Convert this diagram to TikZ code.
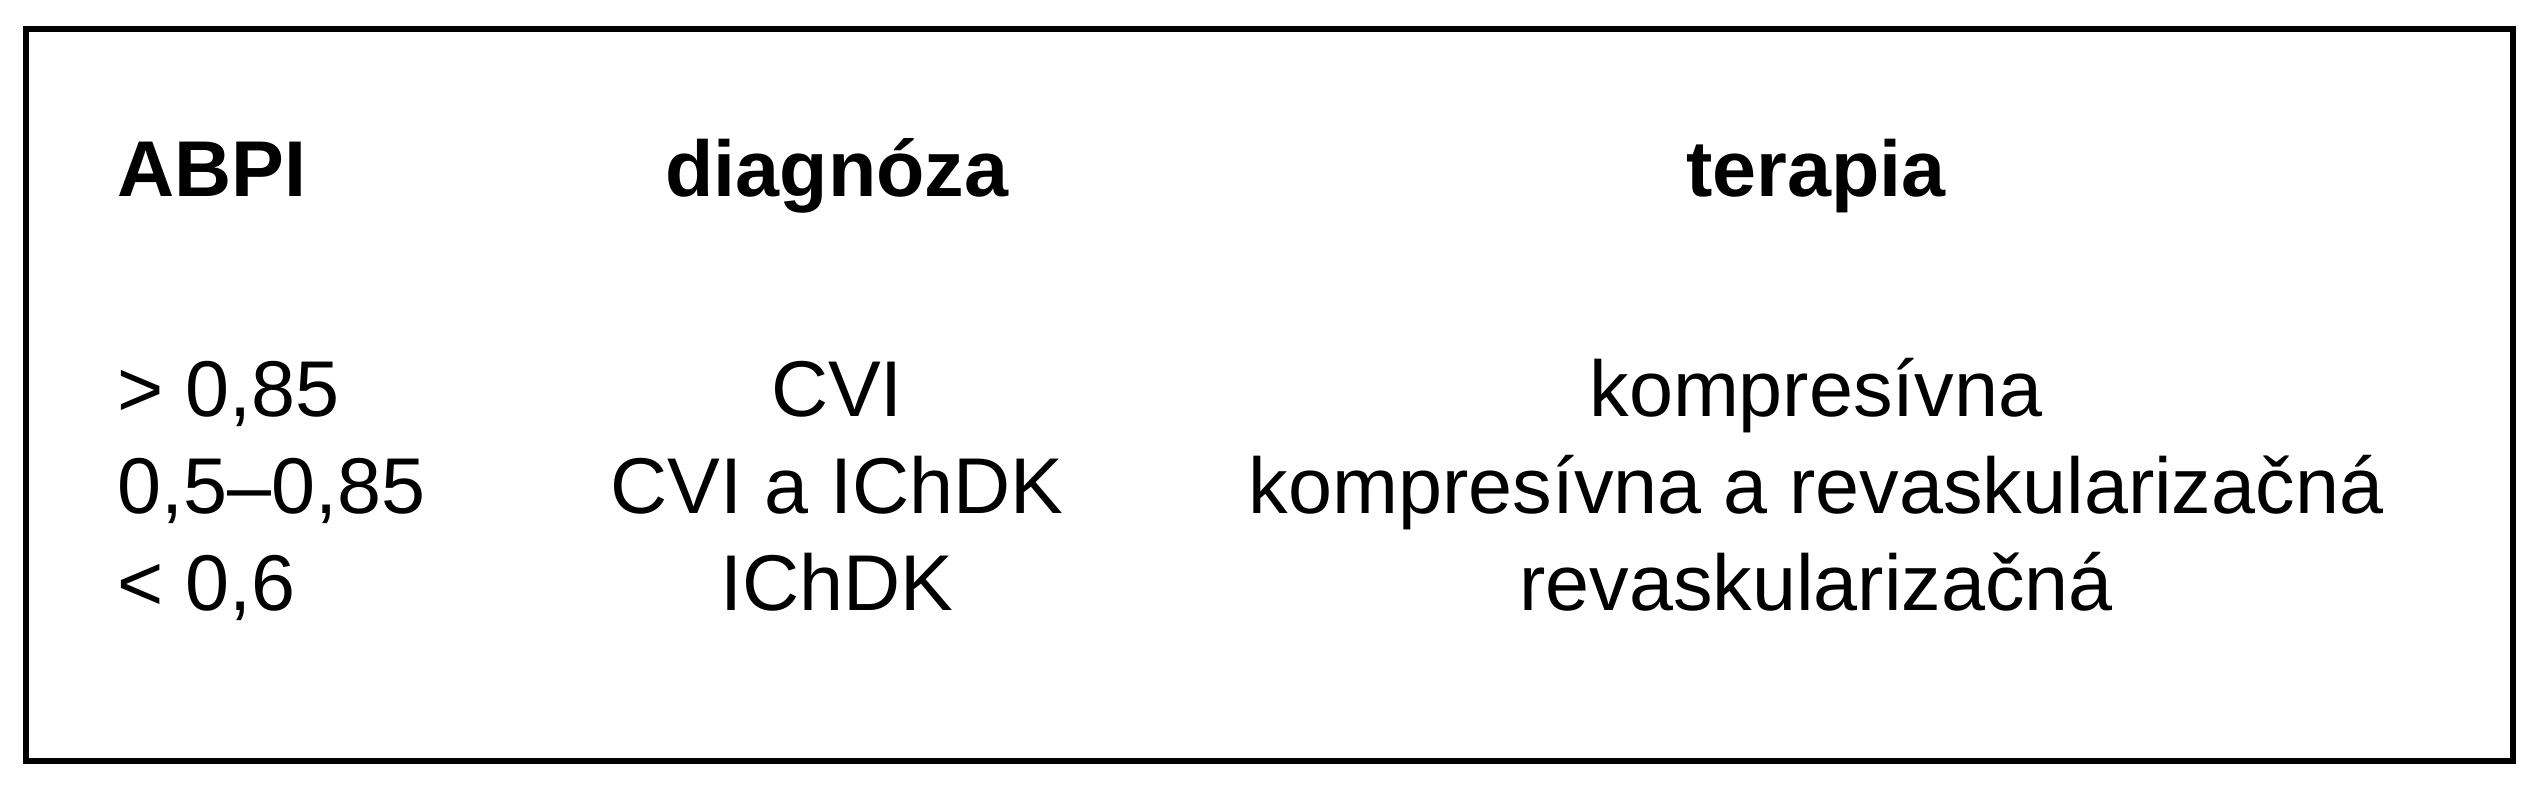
\documentclass[tikz,border=0pt]{standalone}
\usepackage{fontspec}
\setmainfont{Liberation Sans}
\begin{document}
\begin{tikzpicture}[x=0.01cm,y=-0.01cm,
  txt/.style={font=\fontsize{22.5}{26}\selectfont, inner sep=0pt, anchor=base},
  hd/.style={txt, font=\fontsize{22.5}{26}\selectfont\bfseries}]
\useasboundingbox (0,0) rectangle (2538,800);
\draw[line width=1.5pt] (26,29) rectangle (2513,761);
\node[hd, anchor=base west] (h1) at (117,196) {ABPI};
\node[hd] (h2) at (837,196) {diagnóza};
\node[hd] (h3) at (1816,196) {terapia};
\node[txt, anchor=base west] (a1) at (117,416) {> 0,85};
\node[txt] (b1) at (837,416) {CVI};
\node[txt] (c1) at (1816,416) {kompresívna};
\node[txt, anchor=base west] (a2) at (117,513) {0,5–0,85};
\node[txt] (b2) at (837,513) {CVI a IChDK};
\node[txt] (c2) at (1816,513) {kompresívna a revaskularizačná};
\node[txt, anchor=base west] (a3) at (117,610) {< 0,6};
\node[txt] (b3) at (837,610) {IChDK};
\node[txt] (c3) at (1816,610) {revaskularizačná};
\end{tikzpicture}
\end{document}
